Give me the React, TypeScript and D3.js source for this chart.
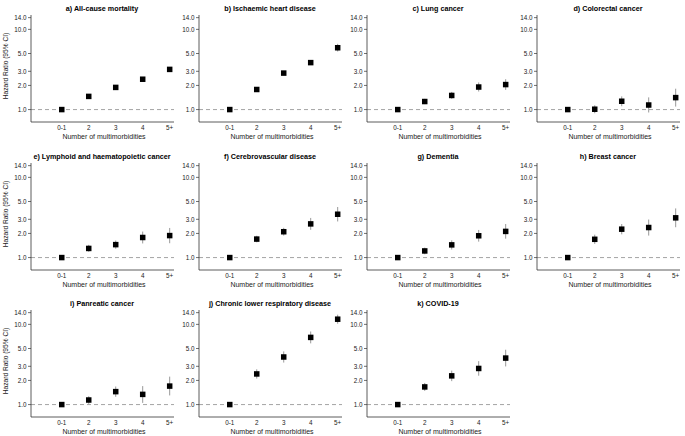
import React from "react";
import * as d3 from "d3";

const categories = ["0-1", "2", "3", "4", "5+"];
const yTickValues = [1, 2, 3, 5, 10, 14];
const titles = [
  "a) All-cause mortality",
  "b) Ischaemic heart disease",
  "c) Lung cancer",
  "d) Colorectal cancer",
  "e) Lymphoid and haematopoietic cancer",
  "f) Cerebrovascular disease",
  "g) Dementia",
  "h) Breast cancer",
  "i) Panreatic cancer",
  "j) Chronic lower respiratory disease",
  "k) COVID-19",
];

const aHR = [1, 1.46, 1.89, 2.39, 3.17];
const aLo = [1, 1.42, 1.84, 2.32, 3.06];
const aHi = [1, 1.5, 1.94, 2.46, 3.28];
const bHR = [1, 1.78, 2.85, 3.85, 5.9];
const bLo = [1, 1.7, 2.68, 3.6, 5.3];
const bHi = [1, 1.87, 3.03, 4.12, 6.6];
const cHR = [1, 1.26, 1.5, 1.91, 2.05];
const cLo = [1, 1.17, 1.36, 1.68, 1.76];
const cHi = [1, 1.36, 1.66, 2.18, 2.39];
const dHR = [1, 1.01, 1.27, 1.14, 1.41];
const dLo = [1, 0.9, 1.1, 0.92, 1.09];
const dHi = [1, 1.13, 1.46, 1.42, 1.82];
const eHR = [1, 1.3, 1.45, 1.78, 1.88];
const eLo = [1, 1.18, 1.29, 1.5, 1.51];
const eHi = [1, 1.44, 1.63, 2.11, 2.34];
const fHR = [1, 1.7, 2.1, 2.63, 3.47];
const fLo = [1, 1.55, 1.88, 2.22, 2.82];
const fHi = [1, 1.87, 2.35, 3.12, 4.27];
const gHR = [1, 1.21, 1.44, 1.87, 2.12];
const gLo = [1, 1.1, 1.26, 1.58, 1.72];
const gHi = [1, 1.33, 1.64, 2.21, 2.62];
const hHR = [1, 1.69, 2.26, 2.37, 3.13];
const hLo = [1, 1.48, 1.95, 1.88, 2.39];
const hHi = [1, 1.93, 2.62, 2.98, 4.1];
const iHR = [1, 1.14, 1.45, 1.34, 1.7];
const iLo = [1, 1.02, 1.25, 1.05, 1.3];
const iHi = [1, 1.27, 1.68, 1.7, 2.23];
const jHR = [1, 2.41, 3.92, 6.88, 11.6];
const jLo = [1, 2.11, 3.34, 5.8, 10.2];
const jHi = [1, 2.75, 4.6, 8.15, 13.2];
const kHR = [1, 1.66, 2.28, 2.82, 3.8];
const kLo = [1, 1.48, 1.96, 2.29, 2.99];
const kHi = [1, 1.86, 2.65, 3.48, 4.83];

const series = [
  [aHR, aLo, aHi],
  [bHR, bLo, bHi],
  [cHR, cLo, cHi],
  [dHR, dLo, dHi],
  [eHR, eLo, eHi],
  [fHR, fLo, fHi],
  [gHR, gLo, gHi],
  [hHR, hLo, hHi],
  [iHR, iLo, iHi],
  [jHR, jLo, jHi],
  [kHR, kLo, kHi],
];

const colX = [31, 199, 367, 537];
const rowTop = [13, 161, 308];
const plotW = 143;
const plotH = 109;
const FONT = "'Liberation Sans', Arial, Helvetica, sans-serif";

function Panel({ idx }: { idx: number }) {
  const col = idx % 4;
  const row = Math.floor(idx / 4);
  const ax = colX[col];
  const top = rowTop[row];
  const y = d3.scaleLog().domain([0.7, 16]).range([top + plotH, top]);
  const x = d3.scaleLinear().domain([-1.14, 4.16]).range([ax, ax + plotW]);
  const [hr, lo, hi] = series[idx];
  const bottom = top + plotH;
  const ms = 5.5;
  return (
    <g>
      <text
        x={ax + 71}
        y={top - 2.5}
        textAnchor="middle"
        fontSize={7.2}
        fontWeight="bold"
        fill="#000"
      >
        {titles[idx]}
      </text>
      <line x1={ax} x2={ax + plotW} y1={y(1)} y2={y(1)} stroke="#9a9a9a" strokeWidth={0.9} strokeDasharray="4,3" />
      <line x1={ax} x2={ax} y1={top + 2} y2={bottom} stroke="#333" strokeWidth={0.8} />
      <line x1={ax} x2={ax + plotW} y1={bottom} y2={bottom} stroke="#333" strokeWidth={0.8} />
      {yTickValues.map((v) => (
        <g key={v}>
          <line x1={ax - 3} x2={ax} y1={y(v)} y2={y(v)} stroke="#333" strokeWidth={0.7} />
          <text x={ax - 4.5} y={y(v) + 2.2} textAnchor="end" fontSize={6.3} fill="#222">
            {v.toFixed(1)}
          </text>
        </g>
      ))}
      {categories.map((c, i) => (
        <text key={c} x={x(i)} y={bottom + 7.5} textAnchor="middle" fontSize={6.3} fill="#222">
          {c}
        </text>
      ))}
      <text x={ax + 73} y={bottom + 16.5} textAnchor="middle" fontSize={7} fill="#222">
        Number of multimorbidities
      </text>
      {col === 0 && (
        <text
          transform={`translate(8,${top + 53}) rotate(-90)`}
          textAnchor="middle"
          fontSize={6.6}
          fill="#222"
        >
          Hazard Ratio (95% CI)
        </text>
      )}
      {hr.map((v, i) => (
        <g key={i}>
          <line x1={x(i)} x2={x(i)} y1={y(lo[i])} y2={y(hi[i])} stroke="#8c8c8c" strokeWidth={0.9} />
          <rect x={x(i) - ms / 2} y={y(v) - ms / 2} width={ms} height={ms} fill="#000" />
        </g>
      ))}
    </g>
  );
}

export default function App() {
  return (
    <svg
      width={685}
      height={436}
      style={{ position: "absolute", left: 0, top: 0, background: "#fff" }}
      fontFamily={FONT}
    >
      <rect width={685} height={436} fill="#fff" />
      {titles.map((_, i) => (
        <Panel key={i} idx={i} />
      ))}
    </svg>
  );
}
